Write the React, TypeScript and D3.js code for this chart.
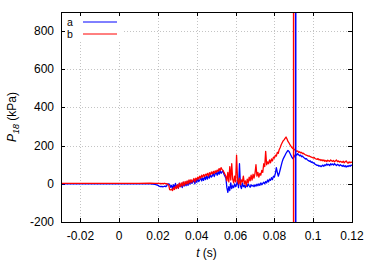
import * as d3 from "d3";

// flat lead-in before the pressure signal starts
const leadTimes = [-0.03, -0.01, 0.01, 0.016, 0.0185];
const leadA = [0, 0, 0, 0, -3];
const leadB = [2, 2, 2, 3, 2];

// dense samples from 0.020 s on, 0.5 ms apart
const t0 = 0.02;
const dt = 0.0005;
const seriesA = [
  -8, -12, -14, -15, -13, -16, -14, -12, -15, -10,
  -2, 0, -4, -18, -8, -25, -5, -20, 2, -22,
  -6, -24, 4, -15, -2, -20, 8, -12, 0, -10,
  12, -8, 15, -2, 18, 2, 10, 22, 0, 25,
  8, 28, 12, 20, 35, 15, 30, 18, 38, 22,
  40, 25, 45, 30, 50, 35, 42, 55, 38, 52,
  60, 45, 65, 50, 70, 55, 62, 68, 50, 40,
  30, -20, -45, -15, -35, 5, -25, -10, -20, 0,
  -15, -5, 20, -20, 105, -10, -25, 5, -15, -8,
  -20, -5, -15, 0, -10, -18, -5, -12, -8, -15,
  -5, -12, -2, -10, 0, -8, 5, -5, 2, 8,
  0, 12, 5, 20, 10, 25, 18, 32, 22, 40,
  35, 55, 85, 60, 40, 55, 75, 95, 115, 130,
  140, 150, 160, 168, 175, 170, 160, 150, 140, 132,
  138, 148, 155, 150, 158, 152, 147, 150, 142, 145,
  138, 135, 130, 132, 125, 122, 118, 120, 112, 115,
  108, 110, 102, 100, 96, 98, 92, 95, 90, 94,
  98, 92, 100, 96, 104, 98, 102, 95, 105, 100,
  104, 98, 106, 100, 96, 102, 98, 94, 100, 96,
  92, 97, 90, 95, 88, 94, 90, 96, 92, 98,
  95,
];
const seriesB = [
  2, 3, 1, 2, 0, 2, 1, 3, 0, 1,
  -2, -5, -30, -32, -28, -35, -20, -30, -12, -25,
  -5, -22, 2, -15, 5, -12, 10, -8, 12, -2,
  15, 0, 20, 5, 22, 8, 18, 28, 10, 30,
  20, 35, 25, 40, 30, 45, 35, 48, 38, 50,
  45, 55, 40, 58, 48, 62, 52, 65, 55, 68,
  60, 72, 65, 80, 70, 85, 75, 70, 60, 50,
  40, 15, 60, 10, 90, 20, 105, 25, 5, 40,
  10, 150, 20, 0, 30, -5, 20, 10, 40, 0,
  15, -10, 25, 5, 35, 15, 45, 20, 50, 30,
  55, 100, 40, 60, 35, 55, 45, 70, 60, 105,
  90, 170, 100, 115, 105, 125, 110, 130, 120, 140,
  135, 150, 145, 165, 160, 180, 190, 205, 215, 225,
  230, 238, 245, 235, 222, 215, 205, 198, 190, 185,
  182, 178, 175, 170, 172, 165, 168, 162, 165, 158,
  160, 155, 152, 150, 148, 145, 146, 142, 140, 138,
  135, 138, 132, 130, 128, 132, 125, 128, 122, 126,
  120, 125, 118, 122, 116, 124, 120, 118, 125, 120,
  118, 122, 115, 120, 125, 116, 120, 114, 118, 115,
  112, 118, 110, 116, 120, 112, 108, 115, 110, 114,
  112,
];
// arrival markers (s)
const markerA = 0.091;
const markerB = 0.0899;

const xTicks = [-0.02, 0, 0.02, 0.04, 0.06, 0.08, 0.1, 0.12];
const yTicks = [-200, 0, 200, 400, 600, 800];
const legend = ["a", "b"];
const colors = ["#0000ff", "#ff0000"];

const W = 374;
const H = 262;
const m = { left: 61, right: 352, top: 12, bottom: 222 };
const font = "'Liberation Sans', Arial, Helvetica, sans-serif";

const toPoints = (lead: number[], vals: number[]) => [
  ...leadTimes.map((t, i) => [t, lead[i]] as [number, number]),
  ...vals.map((v, i) => [t0 + i * dt, v] as [number, number]),
];

export default function App() {
  const x = d3.scaleLinear().domain([-0.03, 0.12]).range([m.left, m.right]);
  const y = d3.scaleLinear().domain([-200, 900]).range([m.bottom, m.top]);
  const line = d3
    .line<[number, number]>()
    .x((d) => x(d[0]))
    .y((d) => y(d[1]));

  const data = [toPoints(leadA, seriesA), toPoints(leadB, seriesB)];
  const fmt = (v: number) => String(+v.toFixed(2));

  return (
    <svg width={W} height={H} style={{ position: "absolute", left: 0, top: 0 }} fontFamily={font}>
      <rect width={W} height={H} fill="#fff" />
      {/* grid */}
      <g stroke="#c4c4c4" strokeWidth={1} strokeDasharray="1,2">
        {xTicks.map((t) => (
          <line key={"gx" + t} x1={Math.round(x(t)) + 0.5} x2={Math.round(x(t)) + 0.5} y1={m.top} y2={m.bottom} />
        ))}
        {yTicks.map((v) => (
          <line key={"gy" + v} x1={m.left} x2={m.right} y1={Math.round(y(v)) + 0.5} y2={Math.round(y(v)) + 0.5} />
        ))}
      </g>
      {/* legend box */}
      <rect x={62} y={14} width={61} height={27} fill="#fff" />
      {/* ticks */}
      <g stroke="#000" strokeWidth={1}>
        {xTicks.map((t) => {
          const px = Math.round(x(t)) + 0.5;
          return (
            <g key={"tx" + t}>
              <line x1={px} x2={px} y1={m.bottom} y2={m.bottom - 4} />
              <line x1={px} x2={px} y1={m.top} y2={m.top + 4} />
            </g>
          );
        })}
        {yTicks.map((v) => {
          const py = Math.round(y(v)) + 0.5;
          return (
            <g key={"ty" + v}>
              <line x1={m.left} x2={m.left + 4} y1={py} y2={py} />
              <line x1={m.right} x2={m.right - 4} y1={py} y2={py} />
            </g>
          );
        })}
      </g>
      {/* data */}
      <g fill="none" strokeWidth={1.3} strokeLinejoin="round">
        {data.map((d, i) => (
          <path key={i} d={line(d) ?? ""} stroke={colors[i]} />
        ))}
      </g>
      {/* markers */}
      <line x1={x(markerB)} x2={x(markerB)} y1={m.top} y2={m.bottom} stroke={colors[1]} strokeWidth={1.5} />
      <line x1={x(markerA)} x2={x(markerA)} y1={m.top} y2={m.bottom} stroke={colors[0]} strokeWidth={1.5} />
      {/* frame */}
      <rect
        x={m.left + 0.5}
        y={m.top + 0.5}
        width={m.right - m.left}
        height={m.bottom - m.top}
        fill="none"
        stroke="#000"
        strokeWidth={1}
      />
      {/* legend */}
      {legend.map((name, i) => (
        <g key={name}>
          <text x={67} y={25.5 + i * 12.5} fontSize={10.5}>
            {name}
          </text>
          <line x1={83} x2={117} y1={22 + i * 12} y2={22 + i * 12} stroke={colors[i]} strokeWidth={1} />
        </g>
      ))}
      {/* tick labels */}
      <g fontSize={12} fill="#000">
        {xTicks.map((t) => (
          <text key={"lx" + t} x={x(t)} y={240} textAnchor="middle">
            {fmt(t)}
          </text>
        ))}
        {yTicks.map((v) => (
          <text key={"ly" + v} x={54} y={y(v) + 4} textAnchor="end">
            {v}
          </text>
        ))}
      </g>
      {/* axis titles */}
      <text x={(m.left + m.right) / 2} y={257} textAnchor="middle" fontSize={12}>
        <tspan fontStyle="italic">t</tspan> (s)
      </text>
      <text
        transform={`translate(16,${(m.top + m.bottom) / 2}) rotate(-90)`}
        textAnchor="middle"
        fontSize={12}
      >
        <tspan fontStyle="italic">P</tspan>
        <tspan fontStyle="italic" fontSize={9} dy={3}>
          18
        </tspan>
        <tspan dy={-3}> (kPa)</tspan>
      </text>
    </svg>
  );
}
